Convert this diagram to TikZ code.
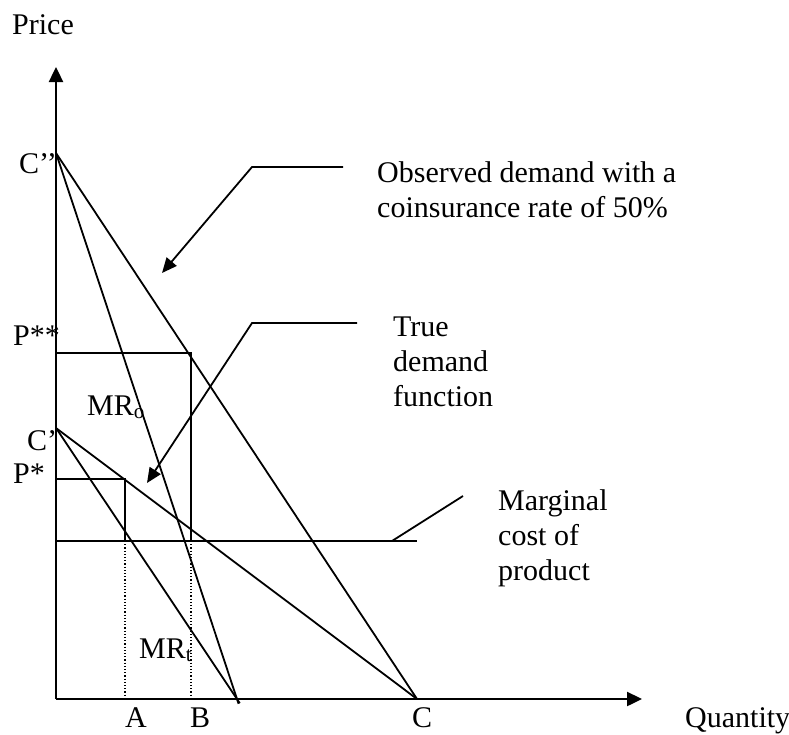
\documentclass[tikz,border=0pt]{standalone}
\usepackage{fontspec}
\setmainfont{Liberation Serif}
\usetikzlibrary{arrows.meta}
\def\bigtext{\fontsize{30}{35}\selectfont}
\tikzset{
  curve/.style={line width=1.8pt},
  axis/.style={line width=2.4pt,-{Triangle[length=15pt,width=14pt]}},
  pointer/.style={line width=1.8pt,-{Triangle[length=15pt,width=13pt]}},
  lbl/.style={inner sep=0pt,anchor=base west,font=\bigtext,align=left},
}

\begin{document}
\begin{tikzpicture}[x=1pt,y=-1pt]
\useasboundingbox (0,0) rectangle (789,734);
% axes
\coordinate (O) at (56,699);
\coordinate (ytop) at (56,67);
\coordinate (xend) at (642,699);
\draw[axis] (O) -- (ytop);
\draw[axis] (O) -- (xend);
% intercepts
\coordinate (Cpp) at (56,153);
\coordinate (Cp) at (56,428);
\coordinate (C) at (417,699);
\coordinate (M) at (237,699);
\coordinate (Pss) at (56,353);
\coordinate (Ps) at (56,479);
\coordinate (A) at (125,699);
\coordinate (B) at (191,699);
\coordinate (mcL) at (56,541);
\coordinate (mcR) at (417,541);
% demand and revenue lines
\draw[curve] (Cpp) -- (C);
\draw[curve] (Cp) -- (C);
\draw[curve,shorten >=-5pt] (Cpp) -- (M);
\draw[curve,shorten >=-5pt] (Cp) -- (M);
% marginal cost
\draw[curve] (mcL) -- (mcR);
% price boxes
\draw[curve] (Pss) -| (B |- mcL);
\draw[curve] (Ps) -| (A |- mcL);
\draw[line width=1.2pt,dotted] (A |- mcL) -- (A);
\draw[line width=1.2pt,dotted] (B |- mcL) -- (B);
% pointers
\coordinate (obsR) at (343,167);
\coordinate (obsK) at (252,167);
\coordinate (obsT) at (162,273);
\draw[pointer] (obsR) -- (obsK) -- (obsT);
\coordinate (trueR) at (357,323);
\coordinate (trueK) at (252,323);
\coordinate (trueT) at (147,483);
\draw[pointer] (trueR) -- (trueK) -- (trueT);
\coordinate (mcA) at (463,496);
\coordinate (mcB) at (392,541);
\draw[curve] (mcA) -- (mcB);
% labels
\node[lbl] (price) at (12,34) {Price};
\node[lbl] (quantity) at (685,727) {Quantity};
\node[lbl] (cpp) at (19,173) {C’’};
\node[lbl] (pss) at (13,345) {P**};
\node[lbl] (cp) at (27,450) {C’};
\node[lbl] (ps) at (13,483) {P*};
\node[lbl] (mro) at (87,415) {MR\textsubscript{o}};
\node[lbl] (mrt) at (139,658) {MR\textsubscript{t}};
\node[lbl] (la) at (125,727) {A};
\node[lbl] (lb) at (190,727) {B};
\node[lbl] (lc) at (412,727) {C};
\node[lbl] (obs) at (377,217) {Observed demand with a\\coinsurance rate of 50\%};
\node[lbl] (truedem) at (393,406) {True\\demand\\function};
\node[lbl] (mc) at (498,580) {Marginal\\cost of\\product};
\end{tikzpicture}
\end{document}
